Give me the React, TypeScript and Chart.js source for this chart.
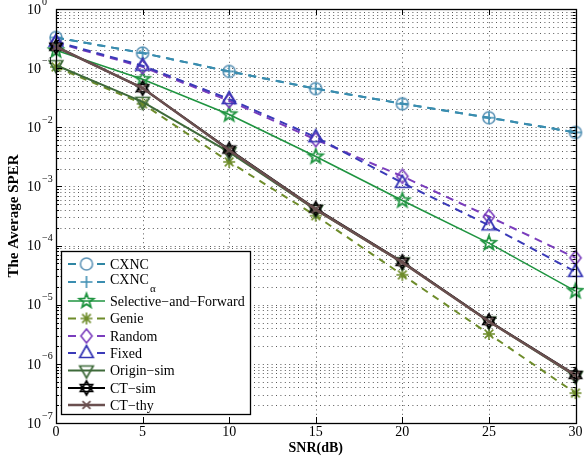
import React, { useEffect, useRef } from 'react';
import { Chart, registerables } from 'chart.js';
Chart.register(...registerables);

const snr = [0, 5, 10, 15, 20, 25, 30];
const xTickValues = [0, 5, 10, 15, 20, 25, 30];
const yDecades = [-7, -6, -5, -4, -3, -2, -1, 0];

const cxnc = [0.33, 0.18, 0.088, 0.045, 0.025, 0.0145, 0.0082];
const cxncAlpha = [0.33, 0.18, 0.088, 0.045, 0.025, 0.0145, 0.0082];
const selectiveForward = [0.2, 0.065, 0.0165, 0.0032, 0.00058, 0.00011, 1.7e-5];
const genie = [0.105, 0.025, 0.0026, 0.00032, 3.2e-5, 3.2e-6, 3.2e-7];
const randomSel = [0.27, 0.105, 0.028, 0.0062, 0.00148, 0.00031, 6.2e-5];
const fixedSel = [0.28, 0.11, 0.03, 0.0068, 0.00115, 0.00022, 3.6e-5];
const originSim = [0.112, 0.027, 0.0038, 0.0004, 5.2e-5, 5.2e-6, 6.2e-7];
const ctSim = [0.23, 0.046, 0.0042, 0.00042, 5.3e-5, 5.3e-6, 6.5e-7];
const ctThy = [0.23, 0.046, 0.0041, 0.00041, 5.2e-5, 5.2e-6, 6.4e-7];

const seriesNames = ['CXNC', 'CXNC', 'Selective\u2212and\u2212Forward', 'Genie', 'Random', 'Fixed', 'Origin\u2212sim', 'CT\u2212sim', 'CT\u2212thy'];

const SERIF = '"Liberation Serif", "DejaVu Serif", serif';

type Kind = 'circle' | 'plus' | 'star5' | 'asterisk' | 'diamond' | 'tri' | 'tridown' | 'hex' | 'x';

function makeMarker(kind: Kind, color: string, lw: number, r: number): HTMLCanvasElement {
  const S = 22;
  const c = document.createElement('canvas');
  c.width = S;
  c.height = S;
  const g = c.getContext('2d')!;
  g.strokeStyle = color;
  g.lineWidth = lw;
  g.lineJoin = 'miter';
  const cx = S / 2;
  const cy = S / 2;
  g.beginPath();
  const poly = (pts: number[][]) => {
    g.moveTo(pts[0][0], pts[0][1]);
    for (let i = 1; i < pts.length; i++) g.lineTo(pts[i][0], pts[i][1]);
    g.closePath();
  };
  if (kind === 'circle') {
    g.arc(cx, cy, r, 0, Math.PI * 2);
  } else if (kind === 'plus') {
    g.moveTo(cx - r, cy); g.lineTo(cx + r, cy);
    g.moveTo(cx, cy - r); g.lineTo(cx, cy + r);
  } else if (kind === 'x') {
    const d = r * 0.72;
    g.moveTo(cx - d, cy - d); g.lineTo(cx + d, cy + d);
    g.moveTo(cx - d, cy + d); g.lineTo(cx + d, cy - d);
  } else if (kind === 'asterisk') {
    const d = r * 0.72;
    g.moveTo(cx - r, cy); g.lineTo(cx + r, cy);
    g.moveTo(cx, cy - r); g.lineTo(cx, cy + r);
    g.moveTo(cx - d, cy - d); g.lineTo(cx + d, cy + d);
    g.moveTo(cx - d, cy + d); g.lineTo(cx + d, cy - d);
  } else if (kind === 'diamond') {
    poly([[cx, cy - r], [cx + r * 0.8, cy], [cx, cy + r], [cx - r * 0.8, cy]]);
  } else if (kind === 'tri') {
    poly([[cx, cy - r], [cx + r * 0.9, cy + r * 0.6], [cx - r * 0.9, cy + r * 0.6]]);
  } else if (kind === 'tridown') {
    poly([[cx, cy + r], [cx + r * 0.9, cy - r * 0.6], [cx - r * 0.9, cy - r * 0.6]]);
  } else if (kind === 'star5') {
    const pts: number[][] = [];
    for (let i = 0; i < 10; i++) {
      const rr = i % 2 === 0 ? r : r * 0.42;
      const a = -Math.PI / 2 + (i * Math.PI) / 5;
      pts.push([cx + rr * Math.cos(a), cy + rr * Math.sin(a)]);
    }
    poly(pts);
  } else if (kind === 'hex') {
    poly([[cx, cy - r], [cx + r * 0.866, cy + r * 0.5], [cx - r * 0.866, cy + r * 0.5]]);
    poly([[cx, cy + r], [cx + r * 0.866, cy - r * 0.5], [cx - r * 0.866, cy - r * 0.5]]);
  }
  g.stroke();
  return c;
}

interface Series {
  name: string;
  sub?: string;
  values: number[];
  color: string;
  lw: number;
  dash: number[];
  marker: HTMLCanvasElement;
}

export default function App() {
  const ref = useRef<HTMLCanvasElement>(null);

  useEffect(() => {
    document.body.style.margin = '0';
    const series: Series[] = [
      { name: seriesNames[0], values: cxnc, color: '#2f86a3', lw: 2, dash: [8, 6], marker: makeMarker('circle', '#5d93b6', 1.6, 6) },
      { name: seriesNames[1], sub: '\u03b1', values: cxncAlpha, color: '#3a8db0', lw: 2, dash: [8, 6], marker: makeMarker('plus', '#3f8fb3', 1.6, 6) },
      { name: seriesNames[2], values: selectiveForward, color: '#1f9440', lw: 1.6, dash: [], marker: makeMarker('star5', '#1f9440', 1.8, 7.5) },
      { name: seriesNames[3], values: genie, color: '#6e8c2a', lw: 2, dash: [7, 6], marker: makeMarker('asterisk', '#6e8c2a', 1.6, 6) },
      { name: seriesNames[4], values: randomSel, color: '#7a3dbd', lw: 2, dash: [8, 6], marker: makeMarker('diamond', '#7a3dbd', 1.6, 7) },
      { name: seriesNames[5], values: fixedSel, color: '#3a3ab8', lw: 2, dash: [8, 6], marker: makeMarker('tri', '#3434b4', 1.7, 7.5) },
      { name: seriesNames[6], values: originSim, color: '#3e6a3a', lw: 2, dash: [], marker: makeMarker('tridown', '#3e6a3a', 1.7, 7.5) },
      { name: seriesNames[7], values: ctSim, color: '#000000', lw: 2, dash: [], marker: makeMarker('hex', '#000000', 1.7, 7) },
      { name: seriesNames[8], values: ctThy, color: '#6a4f4f', lw: 2.5, dash: [], marker: makeMarker('x', '#6a4f4f', 1.7, 5.5) },
    ];

    const yTickList: { value: number }[] = [];
    for (const e of yDecades) {
      if (e === 0) { yTickList.push({ value: 1 }); break; }
      for (let m = 1; m <= 9; m++) yTickList.push({ value: m * Math.pow(10, e) });
    }

    const chrome = {
      id: 'chrome',
      beforeDatasetsDraw(chart: any) {
        const { ctx, chartArea: a, scales } = chart;
        const x = scales.x;
        const y = scales.y;
        ctx.save();
        ctx.strokeStyle = '#5a5a5a';
        ctx.lineWidth = 1;
        ctx.setLineDash([1, 3.4]);
        for (const t of yTickList) {
          if (t.value <= 1e-7 || t.value >= 1) continue;
          const py = Math.round(y.getPixelForValue(t.value)) + 0.5;
          ctx.beginPath();
          ctx.moveTo(a.left, py);
          ctx.lineTo(a.right, py);
          ctx.stroke();
        }
        for (const v of xTickValues) {
          if (v <= 0 || v >= 30) continue;
          const px = Math.round(x.getPixelForValue(v)) + 0.5;
          ctx.beginPath();
          ctx.moveTo(px, a.top);
          ctx.lineTo(px, a.bottom);
          ctx.stroke();
        }
        ctx.restore();
      },
      afterDatasetsDraw(chart: any) {
        const { ctx, chartArea: a, scales } = chart;
        const x = scales.x;
        const y = scales.y;
        ctx.save();
        ctx.setLineDash([]);
        ctx.strokeStyle = '#000';
        ctx.lineWidth = 1;
        for (const t of yTickList) {
          const py = Math.round(y.getPixelForValue(t.value)) + 0.5;
          const major = Math.abs(Math.log10(t.value) - Math.round(Math.log10(t.value))) < 1e-6;
          const len = major ? 6 : 3;
          ctx.beginPath();
          ctx.moveTo(a.left, py); ctx.lineTo(a.left + len, py);
          ctx.moveTo(a.right, py); ctx.lineTo(a.right - len, py);
          ctx.stroke();
        }
        for (const v of xTickValues) {
          const px = Math.round(x.getPixelForValue(v)) + 0.5;
          ctx.beginPath();
          ctx.moveTo(px, a.bottom); ctx.lineTo(px, a.bottom - 6);
          ctx.moveTo(px, a.top); ctx.lineTo(px, a.top + 6);
          ctx.stroke();
        }
        ctx.lineWidth = 1.3;
        ctx.strokeRect(Math.round(a.left) + 0.5, Math.round(a.top) + 0.5, Math.round(a.right - a.left), Math.round(a.bottom - a.top));
        ctx.fillStyle = '#000';
        for (const e of yDecades) {
          const py = y.getPixelForValue(Math.pow(10, e));
          ctx.font = `14px ${SERIF}`;
          ctx.textAlign = 'right';
          ctx.textBaseline = 'middle';
          ctx.fillText('10', 41, py + 1);
          ctx.font = `10px ${SERIF}`;
          ctx.textAlign = 'left';
          ctx.fillText(e === 0 ? '0' : '\u2212' + String(-e), 42, py - 7);
        }
        const lx = 61, ly = 251, lw = 189, lh = 163;
        ctx.fillStyle = '#fff';
        ctx.fillRect(lx, ly, lw, lh);
        ctx.lineWidth = 1.3;
        ctx.strokeStyle = '#000';
        ctx.strokeRect(lx + 0.5, ly + 0.5, lw, lh);
        const rows = [264, 282, 301, 318.5, 336, 353, 370.5, 388, 405];
        series.forEach((s, i) => {
          const ry = rows[i];
          ctx.save();
          ctx.strokeStyle = s.color;
          ctx.lineWidth = s.lw;
          ctx.beginPath();
          if (s.dash.length) {
            ctx.moveTo(68, ry); ctx.lineTo(76, ry);
            ctx.moveTo(97, ry); ctx.lineTo(105, ry);
          } else {
            ctx.moveTo(68, ry); ctx.lineTo(105, ry);
          }
          ctx.stroke();
          ctx.restore();
          const m = s.marker;
          ctx.drawImage(m, 86.5 - m.width / 2, ry - m.height / 2);
          ctx.fillStyle = '#000';
          ctx.font = `14px ${SERIF}`;
          ctx.textAlign = 'left';
          ctx.textBaseline = 'middle';
          const ty = s.sub ? ry - 3 : ry;
          ctx.fillText(s.name, 110, ty + 1);
          if (s.sub) {
            const w = ctx.measureText(s.name).width;
            ctx.font = `11px ${SERIF}`;
            ctx.fillText(s.sub, 110 + w + 1, ty + 10);
          }
        });
        ctx.restore();
      },
    };

    const chart = new Chart(ref.current!, {
      type: 'line',
      data: {
        datasets: series.map((s, i) => ({
          label: s.sub ? s.name + s.sub : s.name,
          data: s.values.map((v, j) => ({ x: snr[j], y: v })),
          borderColor: s.color,
          backgroundColor: s.color,
          borderWidth: s.lw,
          borderDash: s.dash,
          pointStyle: s.marker as any,
          pointRadius: 6,
          fill: false,
          tension: 0,
          clip: false as any,
          order: series.length - i,
        })),
      },
      options: {
        animation: false,
        responsive: false,
        devicePixelRatio: 1,
        layout: { padding: { top: 9, right: 7, left: 0, bottom: 0 } },
        plugins: { legend: { display: false }, tooltip: { enabled: false } },
        scales: {
          x: {
            type: 'linear',
            min: 0,
            max: 30,
            afterBuildTicks: (s: any) => { s.ticks = xTickValues.map((v) => ({ value: v })); },
            afterFit: (s: any) => { s.height = 36; },
            ticks: { color: '#000', font: { family: SERIF, size: 14 }, padding: 1, maxRotation: 0 },
            grid: { display: false, drawTicks: false },
            border: { display: false },
            title: { display: true, text: 'SNR(dB)', color: '#000', font: { family: SERIF, size: 14, weight: 'bold' }, padding: { top: 0, bottom: 2 } },
          },
          y: {
            type: 'logarithmic',
            min: 1e-7,
            max: 1,
            afterBuildTicks: (s: any) => { s.ticks = yTickList.map((t) => ({ value: t.value })); },
            afterFit: (s: any) => { s.width = 56; },
            ticks: { display: false },
            grid: { display: false, drawTicks: false },
            border: { display: false },
            title: { display: true, text: 'The Average SPER', color: '#000', font: { family: SERIF, size: 15, weight: 'bold' }, padding: { top: 5, bottom: 0 } },
          },
        },
      },
      plugins: [chrome],
    });
    return () => chart.destroy();
  }, []);

  return <canvas ref={ref} width={584} height={459} style={{ display: 'block' }} />;
}
